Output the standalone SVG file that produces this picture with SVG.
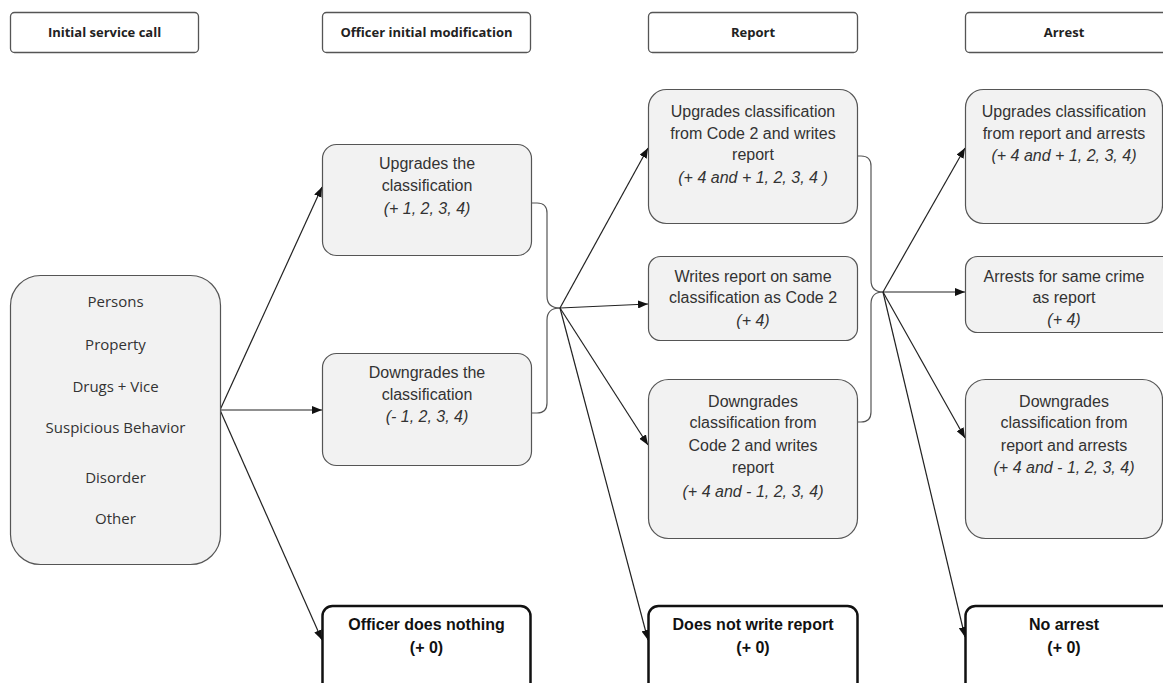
<svg xmlns="http://www.w3.org/2000/svg" width="1163" height="683" viewBox="0 0 1163 683">
<style>
  .hdr { fill: #ffffff; stroke: #555555; stroke-width: 1.3; }
  .box { fill: #f2f2f2; stroke: #555555; stroke-width: 1.2; }
  .end { fill: #ffffff; stroke: #111111; stroke-width: 2.5; }
  .ht { font-family: "Open Sans", "Noto Sans", sans-serif; font-size: 13px; font-weight: bold; fill: #222; text-anchor: middle; }
  .ct { font-family: "Open Sans", "Noto Sans", sans-serif; font-size: 15px; fill: #333; text-anchor: middle; }
  .t { font-family: "Liberation Sans", Arial, sans-serif; font-size: 16px; fill: #333; text-anchor: middle; }
  .i { font-style: italic; }
  .b { font-weight: bold; fill: #111; }
  .ln { fill: none; stroke: #222; stroke-width: 1.2; }
  .cv { fill: none; stroke: #555; stroke-width: 1.2; }
</style>
<defs>
  <marker id="ah" markerUnits="userSpaceOnUse" markerWidth="10" markerHeight="8" refX="10" refY="4" orient="auto">
    <path d="M0,0 L10,4 L0,8 Z" fill="#111"/>
  </marker>
</defs>
<rect width="1163" height="683" fill="#ffffff"/>

<g id="headers">
  <g id="h-initial"><rect class="hdr" x="10.5" y="12.5" width="188" height="40" rx="4"/><text class="ht" x="104.5" y="37">Initial service call</text></g>
  <g id="h-officer"><rect class="hdr" x="322.5" y="12.5" width="208" height="40" rx="4"/><text class="ht" x="426.5" y="37">Officer initial modification</text></g>
  <g id="h-report"><rect class="hdr" x="648.5" y="12.5" width="209" height="40" rx="4"/><text class="ht" x="753" y="37">Report</text></g>
  <g id="h-arrest"><rect class="hdr" x="965.5" y="12.5" width="212" height="40" rx="4"/><text class="ht" x="1064" y="37">Arrest</text></g>
</g>

<g id="connectors">
  <line class="ln" x1="220" y1="410" x2="322" y2="187" marker-end="url(#ah)"/>
  <line class="ln" x1="220" y1="410" x2="322" y2="410" marker-end="url(#ah)"/>
  <line class="ln" x1="220" y1="410" x2="322" y2="640" marker-end="url(#ah)"/>
  <path class="cv" d="M531,203 H537 Q547,203 547,213 V296 Q547,308 560,308"/>
  <path class="cv" d="M531,413 H537 Q547,413 547,403 V320 Q547,308 560,308"/>
  <line class="ln" x1="560" y1="308" x2="648" y2="148" marker-end="url(#ah)"/>
  <line class="ln" x1="560" y1="308" x2="648" y2="304" marker-end="url(#ah)"/>
  <line class="ln" x1="560" y1="308" x2="648" y2="445" marker-end="url(#ah)"/>
  <line class="ln" x1="560" y1="308" x2="648" y2="640" marker-end="url(#ah)"/>
  <path class="cv" d="M857,156 H861 Q871,156 871,166 V280 Q871,292 883,292"/>
  <path class="cv" d="M857,422 H861 Q871,422 871,412 V304 Q871,292 883,292"/>
  <line class="ln" x1="883" y1="292" x2="965" y2="148" marker-end="url(#ah)"/>
  <line class="ln" x1="883" y1="292" x2="965" y2="292" marker-end="url(#ah)"/>
  <line class="ln" x1="883" y1="292" x2="965" y2="438" marker-end="url(#ah)"/>
  <line class="ln" x1="883" y1="292" x2="965" y2="637" marker-end="url(#ah)"/>
</g>

<g id="n-initial">
  <rect class="box" x="10.5" y="275.5" width="210" height="289" rx="30"/>
  <text class="ct" x="115.5" y="307">Persons</text>
  <text class="ct" x="115.5" y="350">Property</text>
  <text class="ct" x="115.5" y="392">Drugs + Vice</text>
  <text class="ct" x="115.5" y="433">Suspicious Behavior</text>
  <text class="ct" x="115.5" y="483">Disorder</text>
  <text class="ct" x="115.5" y="524">Other</text>
</g>

<g id="n-upgrades">
  <rect class="box" x="322.5" y="144.5" width="209" height="111" rx="14"/>
  <text class="t" x="427" y="169">Upgrades the</text>
  <text class="t" x="427" y="191">classification</text>
  <text class="t i" x="427" y="214">(+ 1, 2, 3, 4)</text>
</g>
<g id="n-downgrades">
  <rect class="box" x="322.5" y="353.5" width="209" height="112" rx="14"/>
  <text class="t" x="427" y="378">Downgrades the</text>
  <text class="t" x="427" y="400">classification</text>
  <text class="t i" x="427" y="422">(- 1, 2, 3, 4)</text>
</g>
<g id="n-nothing">
  <rect class="end" x="322.5" y="606" width="208" height="100" rx="10"/>
  <text class="t b" x="426.5" y="630">Officer does nothing</text>
  <text class="t b" x="426.5" y="653">(+ 0)</text>
</g>

<g id="n-r-up">
  <rect class="box" x="648.5" y="89.5" width="209" height="134" rx="18"/>
  <text class="t" x="753" y="117">Upgrades classification</text>
  <text class="t" x="753" y="139">from Code 2 and writes</text>
  <text class="t" x="753" y="160">report</text>
  <text class="t i" x="753" y="183">(+ 4 and + 1, 2, 3, 4 )</text>
</g>
<g id="n-r-same">
  <rect class="box" x="648.5" y="256.5" width="209" height="84" rx="12"/>
  <text class="t" x="753" y="282">Writes report on same</text>
  <text class="t" x="753" y="303">classification as Code 2</text>
  <text class="t i" x="753" y="326">(+ 4)</text>
</g>
<g id="n-r-down">
  <rect class="box" x="648.5" y="379.5" width="209" height="159" rx="20"/>
  <text class="t" x="753" y="407">Downgrades</text>
  <text class="t" x="753" y="428">classification from</text>
  <text class="t" x="753" y="451">Code 2 and writes</text>
  <text class="t" x="753" y="473">report</text>
  <text class="t i" x="753" y="497">(+ 4 and - 1, 2, 3, 4)</text>
</g>
<g id="n-r-none">
  <rect class="end" x="648.5" y="606" width="209" height="100" rx="10"/>
  <text class="t b" x="753" y="630">Does not write report</text>
  <text class="t b" x="753" y="653">(+ 0)</text>
</g>

<g id="n-a-up">
  <rect class="box" x="965.5" y="89.5" width="197" height="134" rx="18"/>
  <text class="t" x="1064" y="117">Upgrades classification</text>
  <text class="t" x="1064" y="139">from report and arrests</text>
  <text class="t i" x="1064" y="161">(+ 4 and + 1, 2, 3, 4)</text>
</g>
<g id="n-a-same">
  <rect class="box" x="965.5" y="256.5" width="212" height="76" rx="12"/>
  <text class="t" x="1064" y="282">Arrests for same crime</text>
  <text class="t" x="1064" y="303">as report</text>
  <text class="t i" x="1064" y="325">(+ 4)</text>
</g>
<g id="n-a-down">
  <rect class="box" x="965.5" y="379.5" width="197" height="159" rx="20"/>
  <text class="t" x="1064" y="407">Downgrades</text>
  <text class="t" x="1064" y="428">classification from</text>
  <text class="t" x="1064" y="451">report and arrests</text>
  <text class="t i" x="1064" y="473">(+ 4 and - 1, 2, 3, 4)</text>
</g>
<g id="n-a-none">
  <rect class="end" x="965.5" y="606" width="212" height="100" rx="10"/>
  <text class="t b" x="1064" y="630">No arrest</text>
  <text class="t b" x="1064" y="653">(+ 0)</text>
</g>
</svg>
